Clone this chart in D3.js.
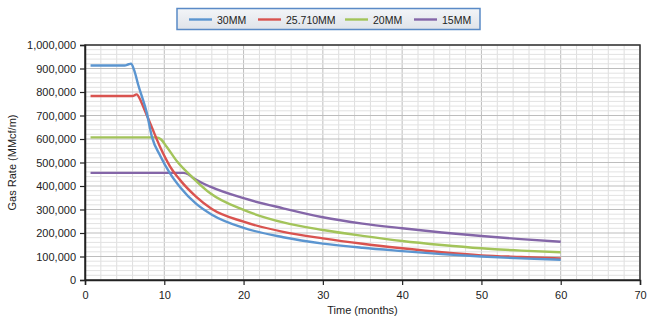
<!DOCTYPE html>
<html><head><meta charset="utf-8">
<script src="https://cdn.jsdelivr.net/npm/d3@7"></script>
<style>
body{margin:0;background:#fff;}
text{font-family:"Liberation Sans",Arial,Helvetica,sans-serif;fill:#222;}
</style></head>
<body><svg id="c" width="650" height="322"></svg>
<script>
const seriesNames = ["30MM","25.710MM","20MM","15MM"];
const seriesColors = ["#5b95d0","#d9534f","#a3c45a","#8466a8"];
const t30 = [0.7,5.0,5.5,5.8,6.2,6.7,7.8,8.45,9.5,10.7,12,14,16,20,25,30,35,40,45,50,55,60];
const v30 = [913000,913000,918000,920000,893000,832000,710000,608000,528000,455000,395000,325000,278000,222000,182000,155000,137000,123000,110000,100000,92000,86000];
const t25 = [0.7,6.0,6.5,7.0,7.35,8.4,9.46,10.7,12,14,16,20,25,30,35,40,45,50,55,60];
const v25 = [783000,783000,790000,765000,737000,652000,567000,485000,425000,355000,302000,248000,205000,177000,154000,135000,118000,105000,98000,92000];
const t20 = [0.7,9.0,9.6,10.3,11.6,13.6,15.8,20,25,30,35,40,45,50,55,60];
const v20 = [607000,607000,598000,567000,505000,435000,369000,298000,245000,213000,188000,166000,149000,135000,125000,118000];
const t15 = [0.7,12.4,13.0,13.7,15.8,20,25,30,35,40,45,50,55,60];
const v15 = [456000,456000,450000,433000,397000,348000,305000,267000,240000,220000,202000,187000,174000,163000];
const xTicks = [0,10,20,30,40,50,60,70];
const yTicks = [0,100000,200000,300000,400000,500000,600000,700000,800000,900000,1000000];
const xTitle = "Time (months)";
const yTitle = "Gas Rate (MMcf/m)";

const series = [[t30,v30],[t25,v25],[t20,v20],[t15,v15]].map((s,i)=>({
  name: seriesNames[i], color: seriesColors[i],
  pts: s[0].map((t,j)=>[t,s[1][j]])
}));

const svg = d3.select("#c");
const L=85,R=640,T=45,B=280;
const x = d3.scaleLinear().domain([0,70]).range([L,R]);
const y = d3.scaleLinear().domain([0,1000000]).range([B,T]);

// grid
const g = svg.append("g");
d3.range(0,70.1,2).forEach(v=>{
  g.append("line").attr("x1",x(v)).attr("x2",x(v)).attr("y1",T).attr("y2",B)
   .attr("stroke", v%10===0 ? "#bdbdbd" : "#dedede").attr("stroke-width",1);
});
d3.range(0,1000001,20000).forEach(v=>{
  g.append("line").attr("x1",L).attr("x2",R).attr("y1",y(v)).attr("y2",y(v))
   .attr("stroke", v%100000===0 ? "#bdbdbd" : "#e2e2e2").attr("stroke-width",1);
});

// frame
svg.append("rect").attr("x",L).attr("y",T).attr("width",R-L).attr("height",B-T)
  .attr("fill","none").attr("stroke","#333").attr("stroke-width",1.5);

// axes
const xa = svg.append("g").attr("transform",`translate(0,${B})`)
  .call(d3.axisBottom(x).tickValues(xTicks).tickSize(5).tickPadding(6).tickFormat(d3.format("d")));
const ya = svg.append("g").attr("transform",`translate(${L},0)`)
  .call(d3.axisLeft(y).tickValues(yTicks).tickSize(5).tickPadding(4).tickFormat(d3.format(",")));
[xa,ya].forEach(a=>{
  a.select(".domain").attr("stroke","#222").attr("stroke-width",1.5);
  a.selectAll(".tick line").attr("stroke","#222").attr("stroke-width",1.2);
  a.selectAll("text").style("font-family",'"Liberation Sans",Arial,sans-serif').style("font-size","11px").attr("fill","#222");
});

// lines
const line = d3.line().x(d=>x(d[0])).y(d=>y(d[1])).curve(d3.curveMonotoneX);
series.slice().reverse().forEach(s=>{
  svg.append("path").datum(s.pts).attr("d",line).attr("fill","none")
    .attr("stroke",s.color).attr("stroke-width",2.4).attr("stroke-linejoin","round");
});

// titles
svg.append("text").attr("x",(L+R)/2).attr("y",314).attr("text-anchor","middle")
  .style("font-size","11px").text(xTitle);
svg.append("text").attr("transform",`translate(16,${(T+B)/2}) rotate(-90)`).attr("text-anchor","middle")
  .style("font-size","11px").text(yTitle);

// legend
const defs = svg.append("defs");
const gr = defs.append("linearGradient").attr("id","lg").attr("x1",0).attr("y1",0).attr("x2",0).attr("y2",1);
gr.append("stop").attr("offset","0").attr("stop-color","#f3f5f8");
gr.append("stop").attr("offset","1").attr("stop-color","#dfe3e9");
svg.append("rect").attr("x",177).attr("y",8.5).attr("width",303).attr("height",21)
  .attr("fill","url(#lg)").attr("stroke","#5a8ac6").attr("stroke-width",1.5);
const legX = [189,258,345,414];
series.forEach((s,i)=>{
  svg.append("line").attr("x1",legX[i]).attr("x2",legX[i]+23).attr("y1",19.5).attr("y2",19.5)
    .attr("stroke",s.color).attr("stroke-width",2.4);
  svg.append("text").attr("x",legX[i]+28).attr("y",23.5).style("font-size","10.5px").text(s.name);
});
</script></body></html>
